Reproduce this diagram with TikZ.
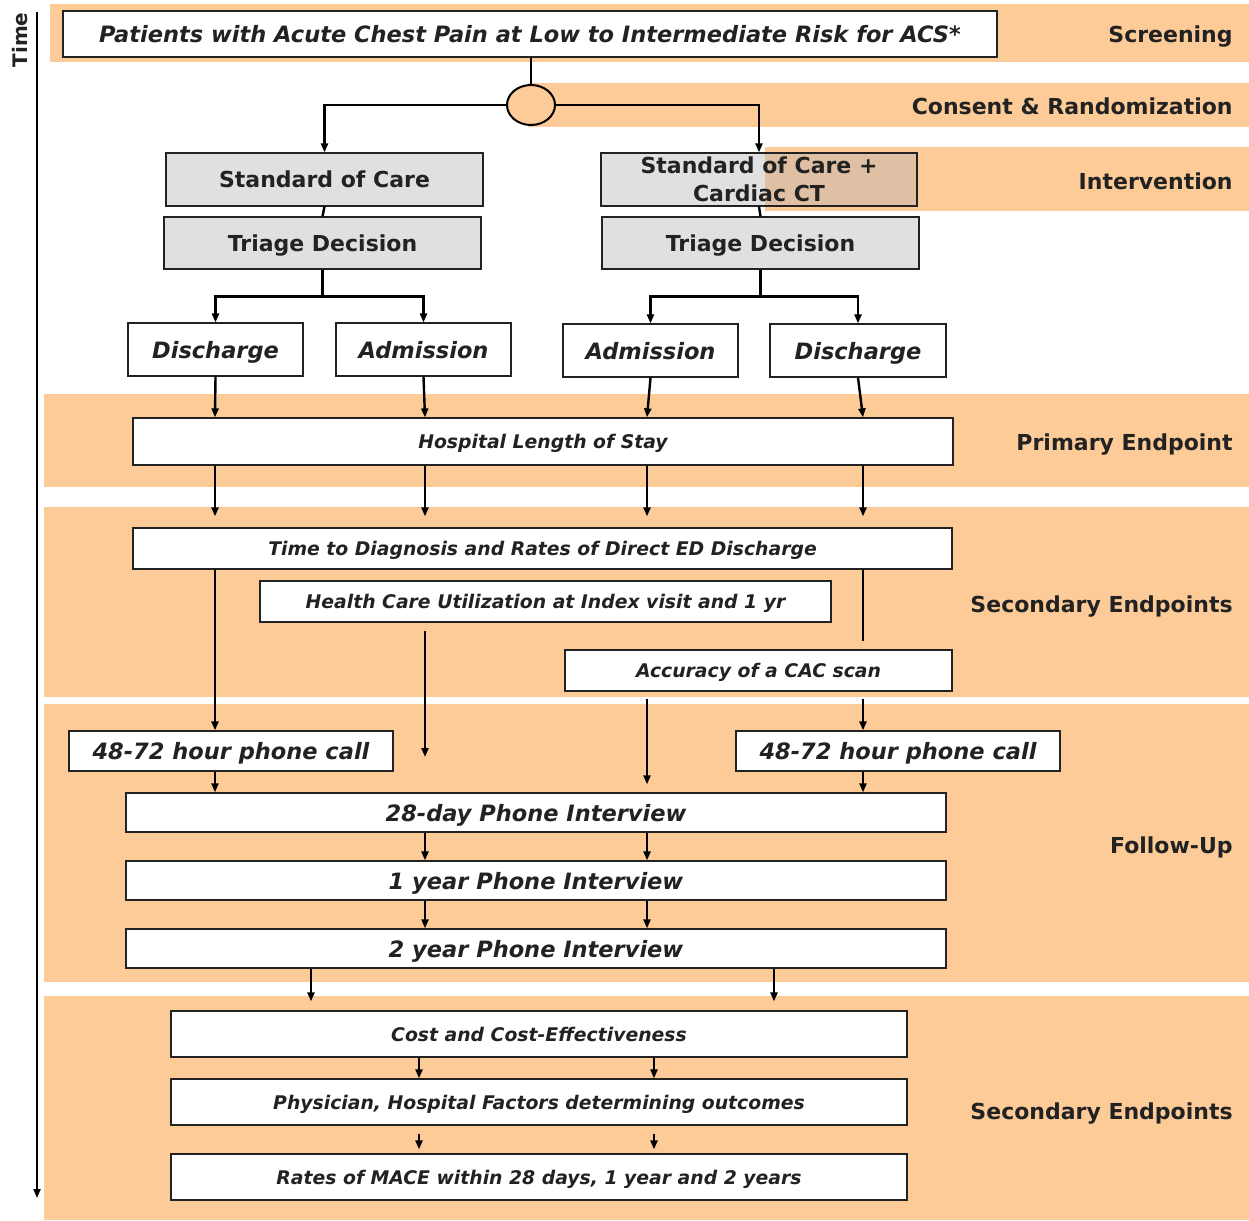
\documentclass[tikz,border=0pt]{standalone}
\usepackage{fontspec}
\setmainfont{DejaVu Sans}
\usetikzlibrary{arrows.meta,shapes.geometric}
\definecolor{bandorange}{RGB}{252,203,152}
\definecolor{boxgray}{RGB}{224,224,224}
\definecolor{overlaptan}{RGB}{224,192,164}
\definecolor{ink}{RGB}{34,34,34}
\tikzset{every picture/.style={line width=0.75pt}}
\tikzset{
	band/.style={fill=bandorange, draw=none},
	box/.style={draw=ink, fill=white, line width=1.2pt, inner sep=0pt, text=ink, text depth=0pt, font=\fontsize{22.5}{26}\selectfont\bfseries\itshape},
	sbox/.style={box, font=\fontsize{18.8}{22}\selectfont\bfseries\itshape},
	gbox/.style={box, fill=boxgray, font=\fontsize{22}{28}\selectfont\bfseries, align=center},
	lbl/.style={anchor=east, text=ink, inner sep=0pt, text depth=0pt, font=\fontsize{22}{26}\selectfont\bfseries},
	ln/.style={line width=2.4pt},
	arr/.style={ln, -{Triangle[length=9pt,width=7pt]}}}

\begin{document}
\begin{tikzpicture}[x=1pt,y=1pt,yscale=-1,xscale=1]
	\useasboundingbox (0,0) rectangle (1249,1220);

	%Shape: Rectangle [bands]
	\fill[band] (50,4) rectangle (1249,62);
	\fill[band] (528,83) rectangle (1249,127);
	\fill[band] (765,147) rectangle (1249,211);
	\fill[band] (44,394) rectangle (1249,487);
	\fill[band] (44,507) rectangle (1249,697);
	\fill[band] (44,704) rectangle (1249,982);
	\fill[band] (44,996) rectangle (1249,1220);

	%Columns of the connectors
	\coordinate (cA) at (215,0);
	\coordinate (cB) at (425,0);
	\coordinate (cC) at (647,0);
	\coordinate (cD) at (863,0);
	\coordinate (cE) at (311,0);
	\coordinate (cF) at (774,0);
	\coordinate (cG) at (419,0);
	\coordinate (cH) at (654,0);

	% Text Node
	\node[box, minimum width=934pt, minimum height=46pt] (pat) at (530,34) {Patients with Acute Chest Pain at Low to Intermediate Risk for ACS*};
	%Shape: Ellipse
	\node[ellipse, draw=black, fill=bandorange, line width=2pt, minimum width=48pt, minimum height=40pt, inner sep=0pt] (rand) at (531,105) {};

	% Text Node
	\node[gbox, minimum width=317pt, minimum height=53pt] (socL) at (324.5,179.5) {Standard of Care};
	\node[gbox, minimum width=317pt, minimum height=52pt] (triL) at (322.5,243) {Triage Decision};
	\node[gbox, minimum width=316pt, minimum height=53pt,
		path picture={\fill[overlaptan] ([xshift=164pt]path picture bounding box.north west) rectangle (path picture bounding box.south east);}] (socR) at (759,179.5) {Standard of Care +\\Cardiac CT};
	\node[gbox, minimum width=317pt, minimum height=52pt] (triR) at (760.5,243) {Triage Decision};

	% Text Node
	\node[box, minimum width=175pt, minimum height=53pt] (disL) at (215.5,349.5) {Discharge};
	\node[box, minimum width=175pt, minimum height=53pt] (admL) at (423.5,349.5) {Admission};
	\node[box, minimum width=175pt, minimum height=53pt] (admR) at (650.5,350.5) {Admission};
	\node[box, minimum width=176pt, minimum height=53pt] (disR) at (858,350.5) {Discharge};

	% Text Node
	\node[sbox, minimum width=820pt, minimum height=47pt] (los) at (543,441.5) {Hospital Length of Stay};
	\node[sbox, minimum width=819pt, minimum height=41pt] (ttd) at (542.5,548.5) {Time to Diagnosis and Rates of Direct ED Discharge};
	\node[sbox, minimum width=571pt, minimum height=41pt] (hcu) at (545.5,601.5) {Health Care Utilization at Index visit and 1 yr};
	\node[sbox, minimum width=387pt, minimum height=41pt] (cac) at (758.5,670.5) {Accuracy of a CAC scan};

	% Text Node
	\node[box, minimum width=324pt, minimum height=40pt] (callL) at (231,751) {48-72 hour phone call};
	\node[box, minimum width=324pt, minimum height=40pt] (callR) at (898,751) {48-72 hour phone call};
	\node[box, minimum width=820pt, minimum height=39pt] (d28) at (536,812.5) {28-day Phone Interview};
	\node[box, minimum width=820pt, minimum height=39pt] (yr1) at (536,880.5) {1 year Phone Interview};
	\node[box, minimum width=820pt, minimum height=39pt] (yr2) at (536,948.5) {2 year Phone Interview};

	% Text Node
	\node[sbox, minimum width=736pt, minimum height=46pt] (cost) at (539,1034) {Cost and Cost-Effectiveness};
	\node[sbox, minimum width=736pt, minimum height=46pt] (phys) at (539,1102) {Physician, Hospital Factors determining outcomes};
	\node[sbox, minimum width=736pt, minimum height=46pt] (mace) at (539,1177) {Rates of MACE within 28 days, 1 year and 2 years};

	% Text Node
	\node[lbl] (lScr) at (1233,34) {Screening};
	\node[lbl] (lRand) at (1233,106) {Consent \& Randomization};
	\node[lbl] (lInt) at (1233,181) {Intervention};
	\node[lbl] (lPri) at (1233,442) {Primary Endpoint};
	\node[lbl] (lSecA) at (1233,604) {Secondary Endpoints};
	\node[lbl] (lFol) at (1233,845) {Follow-Up};
	\node[lbl] (lSecB) at (1233,1111) {Secondary Endpoints};

	%Time axis
	\coordinate (tTop) at (37,12);
	\coordinate (tBot) at (37,1198);
	\draw[arr, line width=2pt] (tTop) -- (tBot);
	\node[rotate=90, text=ink, font=\fontsize{20}{24}\selectfont\bfseries] (time) at (20,40) {Time};

	%Straight Lines
	\draw[ln] (rand.north |- pat.south) -- (rand.north);
	\draw[arr] (rand.west) -| (socL.north);
	\draw[arr] (rand.east) -| (socR.north);
	\draw[ln] (socL.south) -- (triL.north);
	\draw[ln] (socR.south) -- (triR.north);
	\draw[ln] (triL.south) -- ++(0,27) coordinate (spL);
	\draw[arr] (spL) -| (disL.north);
	\draw[arr] (spL) -| (admL.north);
	\draw[ln] (triR.south) -- ++(0,27) coordinate (spR);
	\draw[arr] (spR) -| (admR.north);
	\draw[arr] (spR) -| (disR.north);

	%Straight Lines
	\draw[arr] (disL.south) -- (cA |- los.north);
	\draw[arr] (admL.south) -- (cB |- los.north);
	\draw[arr] (admR.south) -- (cC |- los.north);
	\draw[arr] (disR.south) -- (cD |- los.north);
	\draw[arr, shorten >=11pt] (cA |- los.south) -- (cA |- ttd.north);
	\draw[arr, shorten >=11pt] (cB |- los.south) -- (cB |- ttd.north);
	\draw[arr, shorten >=11pt] (cC |- los.south) -- (cC |- ttd.north);
	\draw[arr, shorten >=11pt] (cD |- los.south) -- (cD |- ttd.north);

	%Straight Lines
	\coordinate (hcuEnd) at (425,757);
	\draw[arr] (cA |- ttd.south) -- (cA |- callL.north);
	\draw[arr, shorten <=8pt] (cB |- hcu.south) -- (hcuEnd);
	\draw[ln, shorten >=8pt] (cD |- ttd.south) -- (cD |- cac.north);
	\draw[arr, shorten <=7pt, shorten >=8pt] (cC |- cac.south) -- (cC |- d28.north);
	\draw[arr, shorten <=7pt] (cD |- cac.south) -- (cD |- callR.north);

	%Straight Lines
	\draw[arr] (cA |- callL.south) -- (cA |- d28.north);
	\draw[arr] (cD |- callR.south) -- (cD |- d28.north);
	\draw[arr] (cB |- d28.south) -- (cB |- yr1.north);
	\draw[arr] (cC |- d28.south) -- (cC |- yr1.north);
	\draw[arr] (cB |- yr1.south) -- (cB |- yr2.north);
	\draw[arr] (cC |- yr1.south) -- (cC |- yr2.north);
	\draw[arr, shorten >=9pt] (cE |- yr2.south) -- (cE |- cost.north);
	\draw[arr, shorten >=9pt] (cF |- yr2.south) -- (cF |- cost.north);

	%Straight Lines
	\draw[arr] (cG |- cost.south) -- (cG |- phys.north);
	\draw[arr] (cH |- cost.south) -- (cH |- phys.north);
	\draw[arr, shorten <=8pt, shorten >=4pt] (cG |- phys.south) -- (cG |- mace.north);
	\draw[arr, shorten <=8pt, shorten >=4pt] (cH |- phys.south) -- (cH |- mace.north);

\end{tikzpicture}
\end{document}
